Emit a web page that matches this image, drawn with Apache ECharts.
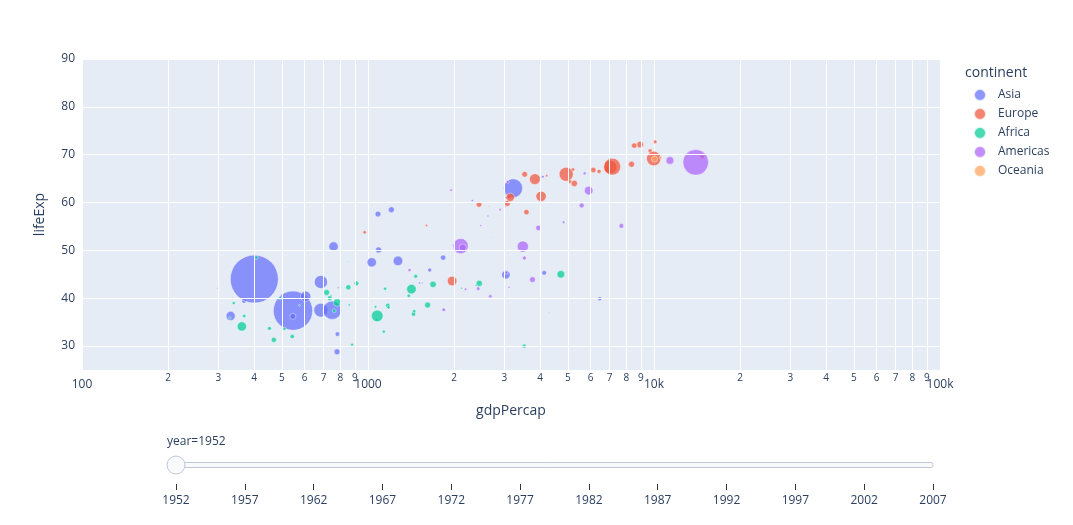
<!DOCTYPE html>
<html>
<head>
<meta charset="utf-8">
<script src="https://cdn.jsdelivr.net/npm/echarts@6/dist/echarts.min.js"></script>
<style>
  html, body { margin: 0; padding: 0; background: #fff; }
  #main { width: 1073px; height: 525px; }
</style>
</head>
<body>
<div id="main"></div>
<script>
// [country, gdpPercap, lifeExp, pop]  year 1952
var asia = [
  ['Afghanistan', 779.4, 28.8, 8425333], ['Bahrain', 9867.1, 50.9, 120447],
  ['Bangladesh', 684.2, 37.5, 46886859], ['Cambodia', 368.5, 39.4, 4693836],
  ['China', 400.4, 44.0, 556263527], ['Hong Kong, China', 3054.4, 61.0, 2125900],
  ['India', 546.6, 37.4, 372000000], ['Indonesia', 749.7, 37.5, 82052000],
  ['Iran', 3035.3, 44.9, 17272000], ['Iraq', 4129.8, 45.3, 5441766],
  ['Israel', 4086.5, 65.4, 1620914], ['Japan', 3217.0, 63.0, 86459025],
  ['Jordan', 1546.9, 43.2, 607914], ['Korea, Dem. Rep.', 1088.3, 50.1, 8865488],
  ['Korea, Rep.', 1030.6, 47.5, 20947571], ['Kuwait', 108382.4, 55.6, 160000],
  ['Lebanon', 4834.8, 55.9, 1439529], ['Malaysia', 1831.1, 48.5, 6748378],
  ['Mongolia', 786.6, 42.2, 800663], ['Myanmar', 331.0, 36.3, 20092996],
  ['Nepal', 545.9, 36.2, 9182536], ['Oman', 1828.2, 37.6, 507833],
  ['Pakistan', 684.6, 43.4, 41346560], ['Philippines', 1272.9, 47.8, 22438691],
  ['Saudi Arabia', 6459.6, 39.9, 4005677], ['Singapore', 2315.1, 60.4, 1127000],
  ['Sri Lanka', 1083.5, 57.6, 7982342], ['Syria', 1643.5, 45.9, 3661549],
  ['Taiwan', 1206.9, 58.5, 8550362], ['Thailand', 757.8, 50.8, 21289402],
  ['Vietnam', 605.1, 40.4, 26246839], ['West Bank and Gaza', 1515.6, 43.2, 1030585],
  ['Yemen, Rep.', 781.7, 32.5, 4963829]
];
var europe = [
  ['Albania', 1601.1, 55.2, 1282697], ['Austria', 6137.1, 66.8, 6927772],
  ['Belgium', 8343.1, 68.0, 8730405], ['Bosnia and Herzegovina', 973.5, 53.8, 2791000],
  ['Bulgaria', 2444.3, 59.6, 7274900], ['Croatia', 3119.2, 61.2, 3882229],
  ['Czech Republic', 6876.1, 66.9, 9125183], ['Denmark', 9692.4, 70.8, 4334000],
  ['Finland', 6424.5, 66.5, 4090500], ['France', 7029.8, 67.4, 42459667],
  ['Germany', 7144.1, 67.5, 69145952], ['Greece', 3530.7, 65.9, 7733250],
  ['Hungary', 5263.7, 64.0, 9504000], ['Iceland', 7267.7, 72.5, 147962],
  ['Ireland', 5210.3, 66.9, 2952156], ['Italy', 4931.4, 65.9, 47666000],
  ['Montenegro', 2647.6, 59.2, 413834], ['Netherlands', 8941.6, 72.1, 10381988],
  ['Norway', 10095.4, 72.7, 3327728], ['Poland', 4029.3, 61.3, 25730551],
  ['Portugal', 3068.3, 59.8, 8526050], ['Romania', 3144.6, 61.1, 16630000],
  ['Serbia', 3581.5, 58.0, 6860147], ['Slovak Republic', 5074.7, 64.4, 3558137],
  ['Slovenia', 4215.0, 65.6, 1489518], ['Spain', 3834.0, 64.9, 28549870],
  ['Sweden', 8527.8, 71.9, 7124673], ['Switzerland', 14734.2, 69.6, 4815000],
  ['Turkey', 1969.1, 43.6, 22235677], ['United Kingdom', 9979.5, 69.2, 50430000]
];
var africa = [
  ['Algeria', 2449.0, 43.1, 9279525], ['Angola', 3520.6, 30.0, 4232095],
  ['Benin', 1062.8, 38.2, 1738315], ['Botswana', 851.2, 47.6, 442308],
  ['Burkina Faso', 543.3, 32.0, 4469979], ['Burundi', 339.3, 39.0, 2445618],
  ['Cameroon', 1172.7, 38.5, 5009067], ['Central African Republic', 1071.3, 35.5, 1291695],
  ['Chad', 1178.7, 38.1, 2682462], ['Comoros', 1103.0, 40.7, 153936],
  ['Congo, Dem. Rep.', 780.5, 39.1, 14100005], ['Congo, Rep.', 2125.6, 42.1, 854885],
  ["Cote d'Ivoire", 1388.6, 40.5, 2977019], ['Djibouti', 2669.5, 34.8, 63149],
  ['Egypt', 1418.8, 41.9, 22223309], ['Equatorial Guinea', 375.6, 34.5, 216964],
  ['Eritrea', 328.9, 35.9, 1438760], ['Ethiopia', 362.1, 34.1, 20860941],
  ['Gabon', 4293.5, 37.0, 420702], ['Gambia', 485.2, 30.0, 284320],
  ['Ghana', 911.3, 43.1, 5581001], ['Guinea', 510.2, 33.6, 2664249],
  ['Guinea-Bissau', 299.9, 32.5, 580653], ['Kenya', 853.5, 42.3, 6464046],
  ['Lesotho', 298.8, 42.1, 748747], ['Liberia', 575.6, 38.5, 863308],
  ['Libya', 2387.5, 42.7, 1019729], ['Madagascar', 1443.0, 36.7, 4762912],
  ['Malawi', 369.2, 36.3, 2917802], ['Mali', 452.3, 33.7, 3838168],
  ['Mauritania', 743.1, 40.5, 1022556], ['Mauritius', 1968.0, 51.0, 516556],
  ['Morocco', 1688.2, 42.9, 9939217], ['Mozambique', 468.5, 31.3, 6446316],
  ['Namibia', 2423.8, 41.7, 485831], ['Niger', 761.9, 37.4, 3379468],
  ['Nigeria', 1077.3, 36.3, 33119096], ['Reunion', 2718.9, 52.7, 257700],
  ['Rwanda', 493.3, 40.0, 2534927], ['Sao Tome and Principe', 879.6, 46.5, 60011],
  ['Senegal', 1450.4, 37.3, 2755589], ['Sierra Leone', 879.8, 30.3, 2143249],
  ['Somalia', 1135.7, 33.0, 2526994], ['South Africa', 4725.3, 45.0, 14264935],
  ['Sudan', 1616.0, 38.6, 8504667], ['Swaziland', 1148.4, 41.4, 290243],
  ['Tanzania', 716.7, 41.2, 8322925], ['Togo', 859.8, 38.6, 1219113],
  ['Tunisia', 1468.5, 44.6, 3647735], ['Uganda', 734.8, 40.0, 5824797],
  ['Zambia', 1147.4, 42.0, 2672000], ['Zimbabwe', 406.9, 48.5, 3080907]
];
var americas = [
  ['Argentina', 5911.3, 62.5, 17876956], ['Bolivia', 2677.3, 40.4, 2883315],
  ['Brazil', 2108.9, 50.9, 56602560], ['Canada', 11367.2, 68.8, 14785584],
  ['Chile', 3940.0, 54.7, 6377619], ['Colombia', 2144.1, 50.6, 12350771],
  ['Costa Rica', 2627.0, 57.2, 926317], ['Cuba', 5586.5, 59.4, 6007797],
  ['Dominican Republic', 1397.7, 45.9, 2491346], ['Ecuador', 3522.1, 48.4, 3548753],
  ['El Salvador', 3048.3, 45.3, 2042865], ['Guatemala', 2428.2, 42.0, 3146381],
  ['Haiti', 1840.4, 37.6, 3201488], ['Honduras', 2194.9, 41.9, 1517453],
  ['Jamaica', 2898.5, 58.5, 1426095], ['Mexico', 3478.1, 50.8, 30144317],
  ['Nicaragua', 3112.4, 42.3, 1165790], ['Panama', 2480.4, 55.2, 940080],
  ['Paraguay', 1952.3, 62.6, 1555876], ['Peru', 3758.5, 43.9, 8025700],
  ['Puerto Rico', 3082.0, 64.3, 2227000], ['Trinidad and Tobago', 3023.3, 59.1, 662850],
  ['United States', 13990.5, 68.4, 157553000], ['Uruguay', 5716.8, 66.1, 2252965],
  ['Venezuela', 7689.8, 55.1, 5439568]
];
var oceania = [
  ['Australia', 10039.6, 69.1, 8691212], ['New Zealand', 10556.6, 69.4, 1994794]
];

var continents = ['Asia', 'Europe', 'Africa', 'Americas', 'Oceania'];
var colors = ['#636efa', '#EF553B', '#00cc96', '#ab63fa', '#FFA15A'];
var years = ['1952', '1957', '1962', '1967', '1972', '1977', '1982', '1987', '1992', '1997', '2002', '2007'];
var yGrid = [30, 40, 50, 60, 70, 80, 90];
var xMinor = [200, 300, 400, 500, 600, 700, 800, 900,
  2000, 3000, 4000, 5000, 6000, 7000, 8000, 9000,
  20000, 30000, 40000, 50000, 60000, 70000, 80000, 90000];

var groups = [asia, europe, africa, americas, oceania];
var maxPop = 556263527;
var txt = '#2a3f5f';

var myChart = echarts.init(document.getElementById('main'));

var gridLines = [];
yGrid.forEach(function(v) {
  gridLines.push({ yAxis: v });
});
xMinor.forEach(function(v) {
  var d = String(v).charAt(0);
  gridLines.push({
    xAxis: v,
    label: { show: true, position: 'start', distance: 3, formatter: d, color: txt, fontSize: 10 }
  });
});

var series = [{
  type: 'scatter',
  data: [],
  z: 1,
  silent: true,
  markLine: {
    silent: true,
    animation: false,
    symbol: ['none', 'none'],
    lineStyle: { color: '#ffffff', width: 1, type: 'solid', opacity: 1 },
    label: { show: false },
    emphasis: { disabled: true },
    data: gridLines
  }
}];

groups.forEach(function(g, i) {
  series.push({
    name: continents[i],
    type: 'scatter',
    z: 2,
    data: g.map(function(r) { return [r[1], r[2], r[3], r[0]]; }),
    symbolSize: function(v) { return 48 * Math.sqrt(v[2] / maxPop); },
    itemStyle: { color: colors[i], opacity: 0.72, borderColor: '#ffffff', borderWidth: 0.6 },
    animation: false
  });
});

// slider axis
series.push({
  type: 'line', xAxisIndex: 1, yAxisIndex: 1, data: [], silent: true
});

option = {
  backgroundColor: '#ffffff',
  textStyle: { fontFamily: '"Open Sans", Verdana, Arial, sans-serif' },
  title: {
    text: 'continent',
    left: 960,
    top: 61,
    textStyle: { color: txt, fontSize: 14, fontWeight: 'normal' }
  },
  legend: {
    data: continents,
    orient: 'vertical',
    left: 968,
    top: 83,
    itemWidth: 26,
    itemHeight: 12,
    itemGap: 5,
    icon: 'circle',
    textStyle: { color: txt, fontSize: 12 }
  },
  grid: [{
    left: 82, right: 133, top: 59, bottom: 155,
    show: true, backgroundColor: '#e5ecf6', borderWidth: 0
  }, {
    left: 176, right: 140, top: 483, height: 1
  }],
  xAxis: [{
    type: 'log',
    logBase: 10,
    min: 100,
    max: 100000,
    name: 'gdpPercap',
    nameLocation: 'middle',
    nameGap: 34,
    nameTextStyle: { color: txt, fontSize: 14 },
    axisLine: { show: false },
    axisTick: { show: false },
    axisLabel: {
      color: txt, fontSize: 12, margin: 9,
      formatter: function(v) { return v >= 10000 ? (v / 1000) + 'k' : String(v); }
    },
    splitLine: { show: true, lineStyle: { color: '#ffffff', width: 1 } }
  }, {
    type: 'category',
    gridIndex: 1,
    data: years,
    boundaryGap: false,
    axisLine: { show: false },
    axisTick: { show: true, length: 6, alignWithLabel: true, interval: 0, lineStyle: { color: '#333' } },
    axisLabel: { color: txt, fontSize: 12, margin: 11, interval: 0 },
    splitLine: { show: false }
  }],
  yAxis: [{
    type: 'value',
    min: 25,
    max: 90,
    interval: 5,
    name: 'lifeExp',
    nameLocation: 'middle',
    nameGap: 35,
    nameTextStyle: { color: txt, fontSize: 14 },
    axisLine: { show: false },
    axisTick: { show: false },
    axisLabel: {
      color: txt, fontSize: 12, margin: 7,
      formatter: function(v) { return v % 10 === 0 ? String(v) : ''; }
    },
    splitLine: { show: false }
  }, {
    type: 'value',
    gridIndex: 1,
    show: false
  }],
  graphic: [
    {
      type: 'text', left: 167, top: 436,
      style: { text: 'year=1952', fill: txt, fontSize: 12, fontFamily: '"Open Sans", Verdana, Arial, sans-serif' }
    },
    {
      type: 'rect', shape: { x: 168, y: 462.5, width: 765, height: 5, r: 2 },
      style: { fill: '#f8fafc', stroke: '#bec8d9', lineWidth: 1 }
    },
    {
      type: 'circle', shape: { cx: 176, cy: 465, r: 9 },
      style: { fill: '#f8fafc', stroke: '#bec8d9', lineWidth: 1 }
    }
  ],
  series: series
};

myChart.setOption(option);
</script>
</body>
</html>
